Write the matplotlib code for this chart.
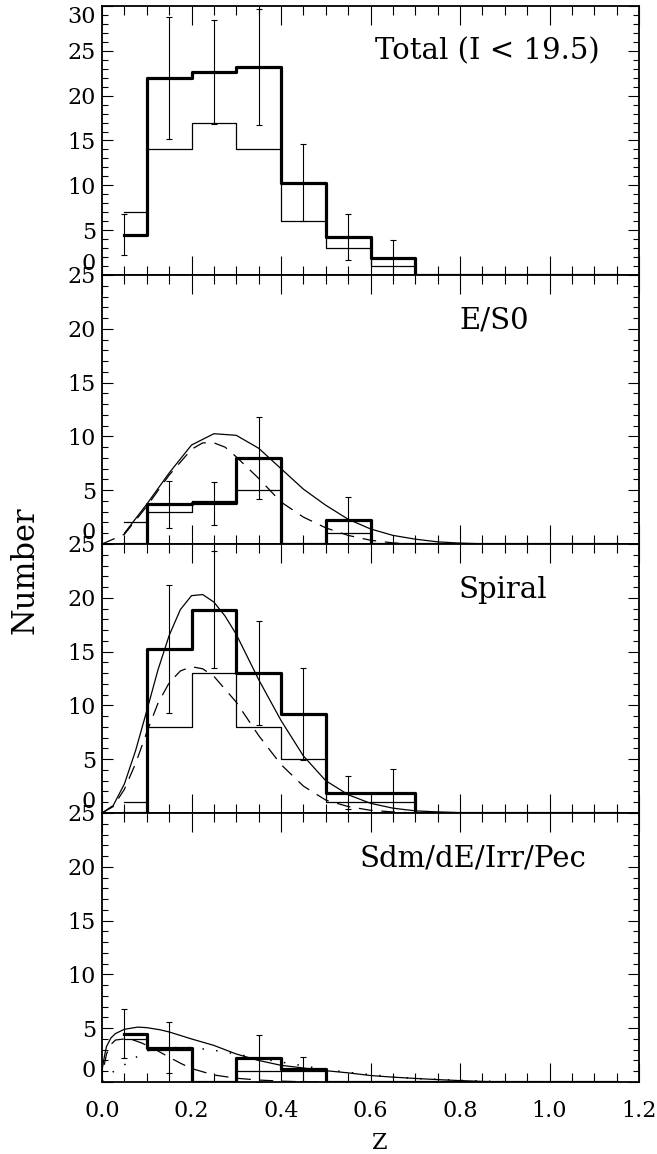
import numpy as np
import matplotlib
matplotlib.use("Agg")
import matplotlib.pyplot as plt
from matplotlib.ticker import MultipleLocator


# DATA

# histogram bin centres (IDL psym=10 style, bin width 0.1)
z_cen = [0.05, 0.15, 0.25, 0.35, 0.45, 0.55, 0.65, 0.75, 0.85, 0.95, 1.05, 1.15]

panel_names = ["Total (I < 19.5)", "E/S0", "Spiral", "Sdm/dE/Irr/Pec"]

# corrected (thick) and raw (thin) counts
tot_thick = [4.5, 22.0, 22.6, 23.2, 10.3, 4.2, 1.9, 0, 0, 0, 0, 0]
tot_thin = [7, 14, 17, 14, 6, 3, 1, 0, 0, 0, 0, 0]
tot_err = [2.25, 6.8, 5.8, 6.5, 4.3, 2.55, 2.0, None, None, None, None, None]

es0_thick = [0, 3.7, 3.8, 8.0, 0, 2.2, 0, 0, 0, 0, 0, 0]
es0_thin = [2, 3, 4, 5, 0, 1, 0, 0, 0, 0, 0, 0]
es0_err = [None, 2.2, 2.0, 3.8, None, 2.2, None, None, None, None, None, None]

sp_thick = [0, 15.2, 18.9, 13.0, 9.2, 1.9, 1.9, 0, 0, 0, 0, 0]
sp_thin = [1, 8, 13, 8, 5, 1, 1, 0, 0, 0, 0, 0]
sp_err = [None, 5.95, 5.45, 4.85, 4.3, 1.5, 2.2, None, None, None, None, None]

irr_thick = [4.5, 3.2, 0, 2.2, 1.2, 0, 0, 0, 0, 0, 0, 0]
irr_thin = [4, 3, 0, 1, 1, 0, 0, 0, 0, 0, 0, 0]
irr_err = [2.3, 2.35, None, 2.2, 1.1, None, None, None, None, None, None, None]

# model curves
es0_solid_z = [0.05, 0.1, 0.15, 0.2, 0.25, 0.3, 0.35, 0.4, 0.45, 0.5, 0.55,
               0.6, 0.65, 0.7, 0.75, 0.8, 0.85, 0.9]
es0_solid_n = [1.0, 3.7, 6.6, 9.2, 10.25, 10.1, 8.9, 7.0, 5.1, 3.6, 2.3,
               1.4, 0.8, 0.45, 0.2, 0.08, 0.02, 0.0]
es0_dash_z = [0.0, 0.05, 0.1, 0.15, 0.2, 0.225, 0.25, 0.275, 0.3, 0.35, 0.4,
              0.45, 0.5, 0.55, 0.6, 0.65, 0.7]
es0_dash_n = [0.0, 0.9, 3.5, 6.4, 8.8, 9.4, 9.4, 9.0, 8.1, 6.1, 3.9,
              2.5, 1.5, 0.8, 0.35, 0.1, 0.0]

sp_solid_z = [0.0, 0.025, 0.05, 0.075, 0.1, 0.125, 0.15, 0.175, 0.2, 0.225,
              0.25, 0.275, 0.3, 0.35, 0.4, 0.45, 0.5, 0.55, 0.6, 0.65, 0.7,
              0.75, 0.8, 0.9]
sp_solid_n = [0.0, 0.7, 2.7, 5.8, 9.5, 13.3, 16.5, 18.9, 20.2, 20.3,
              19.6, 18.3, 16.6, 12.4, 8.6, 5.3, 3.0, 1.7, 0.9, 0.45, 0.2,
              0.1, 0.03, 0.0]
sp_dash_z = [0.0, 0.025, 0.05, 0.075, 0.1, 0.125, 0.15, 0.175, 0.2, 0.225,
             0.25, 0.3, 0.35, 0.4, 0.45, 0.5, 0.55, 0.6, 0.65, 0.7]
sp_dash_n = [0.0, 0.6, 2.2, 4.6, 7.5, 10.2, 12.1, 13.2, 13.6, 13.4,
             12.7, 10.3, 7.2, 4.5, 2.5, 1.2, 0.6, 0.25, 0.1, 0.0]

irr_solid_z = [0.0, 0.005, 0.01, 0.02, 0.03, 0.05, 0.08, 0.1, 0.13, 0.15,
               0.2, 0.25, 0.3, 0.35, 0.4, 0.45, 0.5, 0.55, 0.6, 0.65, 0.7,
               0.75, 0.8, 0.85, 0.9]
irr_solid_n = [1.1, 2.3, 3.3, 4.1, 4.5, 4.9, 5.1, 5.05, 4.85, 4.65,
               4.0, 3.4, 2.6, 2.0, 1.55, 1.3, 1.05, 0.85, 0.6, 0.45, 0.33,
               0.22, 0.13, 0.05, 0.0]
irr_dash_z = [0.005, 0.01, 0.02, 0.03, 0.05, 0.07, 0.09, 0.12, 0.15, 0.175,
              0.2, 0.25, 0.3, 0.35, 0.4, 0.45, 0.5]
irr_dash_n = [1.6, 2.6, 3.5, 3.9, 4.0, 3.9, 3.6, 3.0, 2.3, 1.75,
              1.25, 0.65, 0.35, 0.18, 0.08, 0.02, 0.0]
irr_dot_z = [0.0, 0.025, 0.05, 0.08, 0.1, 0.15, 0.2, 0.25, 0.3, 0.35, 0.4,
             0.45, 0.5, 0.55, 0.6, 0.65, 0.7, 0.75, 0.8, 0.85, 0.9]
irr_dot_n = [0.1, 0.95, 1.6, 2.4, 2.9, 3.2, 3.2, 2.95, 2.6, 2.2, 1.85,
             1.5, 1.15, 0.9, 0.68, 0.47, 0.32, 0.25, 0.15, 0.08, 0.03]

# label positions (centre, data x)
label_x = [0.860, 0.877, 0.896, 0.829]
y_top = [30, 25, 25, 25]


# FIGURE

plt.rcParams['font.family'] = ['DejaVu Serif']

fig, axes = plt.subplots(4, 1, figsize=(6.57, 11.54), dpi=100, sharex=True)
fig.subplots_adjust(left=0.1553, right=0.9726, bottom=0.0624, top=0.9948, hspace=0)

thick_sets = [tot_thick, es0_thick, sp_thick, irr_thick]
thin_sets = [tot_thin, es0_thin, sp_thin, irr_thin]
err_sets = [tot_err, es0_err, sp_err, irr_err]

dash_ls = (0, (11, 7))
dot_ls = (0, (1, 8))

for k, ax in enumerate(axes):
    thick = thick_sets[k]
    thin = thin_sets[k]
    err = err_sets[k]

    ax.step(z_cen, thin, where='mid', color='k', lw=0.9)
    ax.step(z_cen, thick, where='mid', color='k', lw=2.3)

    # error bars only where the figure shows them
    ex = [z_cen[i] for i in range(len(err)) if err[i] is not None]
    ey = [thick[i] for i in range(len(err)) if err[i] is not None]
    ee = [err[i] for i in range(len(err)) if err[i] is not None]
    ax.errorbar(ex, ey, yerr=ee, fmt='none', ecolor='k', elinewidth=0.8,
                capsize=2.5, capthick=0.8)

    ax.set_xlim(0, 1.2)
    ax.set_ylim(0, y_top[k])

    ax.text(label_x[k], 0.83, panel_names[k], transform=ax.get_xaxis_transform(),
            fontsize=21, ha='center', va='center')

    # ticks on all sides, pointing in
    ax.xaxis.set_major_locator(MultipleLocator(0.2))
    ax.xaxis.set_minor_locator(MultipleLocator(0.05))
    ax.yaxis.set_major_locator(MultipleLocator(5))
    ax.yaxis.set_minor_locator(MultipleLocator(1))
    ax.tick_params(axis='x', which='both', direction='in', top=True, bottom=True,
                   width=0.8, labelsize=16, pad=13)
    ax.tick_params(axis='x', which='major', length=13.7)
    ax.tick_params(axis='x', which='minor', length=6.5)
    ax.tick_params(axis='y', which='both', direction='in', left=True, right=True,
                   width=0.8, labelsize=16, pad=4.5)
    ax.tick_params(axis='y', which='major', length=8)
    ax.tick_params(axis='y', which='minor', length=4.3)
    for sp in ax.spines.values():
        sp.set_linewidth(1.3)

# model curves
axes[1].plot(es0_solid_z, es0_solid_n, color='k', lw=0.9)
axes[1].plot(es0_dash_z, es0_dash_n, color='k', lw=0.9, linestyle=dash_ls)

axes[2].plot(sp_solid_z, sp_solid_n, color='k', lw=0.9)
axes[2].plot(sp_dash_z, sp_dash_n, color='k', lw=0.9, linestyle=dash_ls)

axes[3].plot(irr_solid_z, irr_solid_n, color='k', lw=0.9)
axes[3].plot(irr_dash_z, irr_dash_n, color='k', lw=0.9, linestyle=dash_ls)
axes[3].plot(irr_dot_z, irr_dot_n, color='k', lw=1.1, linestyle=dot_ls)

axes[3].set_xticks([0.0, 0.2, 0.4, 0.6, 0.8, 1.0, 1.2])
axes[3].set_xticklabels(["0.0", "0.2", "0.4", "0.6", "0.8", "1.0", "1.2"])

# the "0" labels sit just above the bottom axis, the top "30" just below the top
fig.canvas.draw()
for ax in axes:
    for lab in ax.get_yticklabels():
        if lab.get_text() == "0":
            lab.set_va('bottom')
        if lab.get_text() == "30":
            lab.set_va('top')

fig.text(25 / 657, 1 - 570 / 1154, "Number", rotation=90, fontsize=22,
         ha='center', va='center')
fig.text(380 / 657, 1 - 1143 / 1154, "Z", fontsize=16, ha='center', va='center')

fig.savefig("out.png", dpi=100)
